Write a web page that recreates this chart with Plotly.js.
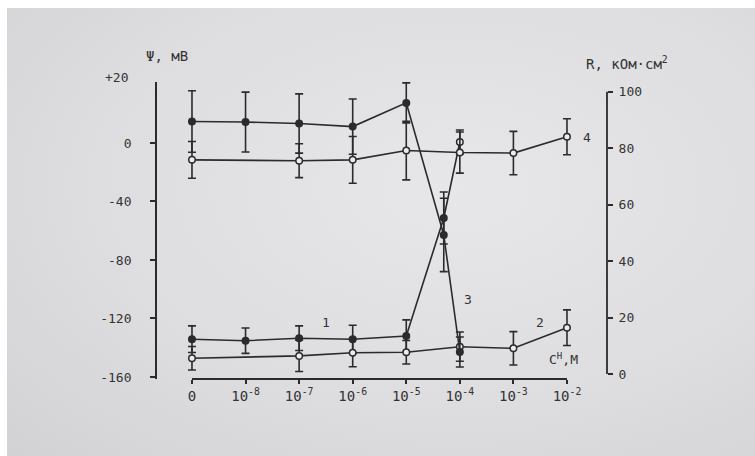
<!DOCTYPE html>
<html>
<head>
<meta charset="utf-8">
<script src="https://cdn.plot.ly/plotly-3.0.1.min.js"></script>
<style>
  html, body { margin: 0; padding: 0; background: #ffffff; }
  #chart { width: 755px; height: 456px; background-color: #ffffff;
    background-image: radial-gradient(ellipse at 60% 40%, #e7e7e9 0%, #dedee0 55%, #d2d2d4 100%);
    background-repeat: no-repeat; background-position: 7px 8px; background-size: 748px 448px; }
</style>
</head>
<body>
<div id="chart"></div>
<script>
// Concentration categories (log positions) and tick labels
const xTickVals = [0, 1, 2, 3, 4, 5, 6, 7];
const xTickText = ['0', '10<sup>-8</sup>', '10<sup>-7</sup>', '10<sup>-6</sup>', '10<sup>-5</sup>', '10<sup>-4</sup>', '10<sup>-3</sup>', '10<sup>-2</sup>'];

// Left axis ticks (Ψ, мВ)
const psiTickVals = [-160, -120, -80, -40, 0];
const psiTickText = ['-160', '-120', '-80', '-40', '0'];
// Right axis ticks (R, кОм·см²)
const rTickVals = [0, 20, 40, 60, 80, 100];
const rTickText = ['0', '20', '40', '60', '80', '100'];

// Curve 1: Ψ, filled markers
const c1x = [0, 1, 2, 3, 4, 4.7, 5];
const c1y = [-134.2, -135.2, -133.5, -134.2, -132, -51.3, 0.7];
const c1e = [9.1, 8.7, 8.4, 9.6, 11, 17.8, 8.2];
// Curve 2: Ψ, open markers
const c2x = [0, 2, 3, 4, 5, 6, 7];
const c2y = [-147.2, -145.6, -143.4, -143.1, -139.3, -140.4, -126.3];
const c2e = [8, 10.7, 9.6, 8, 10, 11.4, 12.2];
// Curve 3: R, filled markers
const c3x = [0, 1, 2, 3, 4, 4.7, 5];
const c3y = [89.5, 89.3, 88.8, 87.7, 96.1, 49.3, 7.8];
const c3e = [10.9, 10.6, 10.5, 9.8, 7.1, 13, 5.3];
// Curve 4: R, open markers
const c4x = [0, 2, 3, 4, 5, 6, 7];
const c4y = [75.9, 75.6, 75.9, 79.2, 78.5, 78.3, 84.1];
const c4e = [6.5, 6, 8.3, 10.4, 7.3, 7.7, 6.4];

const ink = '#2b2b2d';
const openFill = '#ececee';
const fontFam = '"DejaVu Sans Mono", "Liberation Mono", monospace';

function errObj(arr) {
  return { type: 'data', array: arr, visible: true, color: ink, thickness: 1.6, width: 4 };
}

// last point of curve 1 drawn open as in the original
const c1colors = c1x.map((v, i) => i === c1x.length - 1 ? openFill : ink);

const traces = [
  { x: c1x, y: c1y, yaxis: 'y', mode: 'lines+markers', error_y: errObj(c1e),
    line: { color: ink, width: 1.6 },
    marker: { size: 6.5, color: c1colors, line: { color: ink, width: 1.5 } } },
  { x: c2x, y: c2y, yaxis: 'y', mode: 'lines+markers', error_y: errObj(c2e),
    line: { color: ink, width: 1.6 },
    marker: { size: 6.5, color: openFill, line: { color: ink, width: 1.5 } } },
  { x: c3x, y: c3y, yaxis: 'y2', mode: 'lines+markers', error_y: errObj(c3e),
    line: { color: ink, width: 1.6 },
    marker: { size: 6.5, color: ink, line: { color: ink, width: 1.5 } } },
  { x: c4x, y: c4y, yaxis: 'y2', mode: 'lines+markers', error_y: errObj(c4e),
    line: { color: ink, width: 1.6 },
    marker: { size: 6.5, color: openFill, line: { color: ink, width: 1.5 } } }
];

const layout = {
  width: 755, height: 456,
  margin: { l: 157, r: 148, t: 82, b: 77, pad: 0 },
  paper_bgcolor: 'rgba(0,0,0,0)',
  plot_bgcolor: 'rgba(0,0,0,0)',
  showlegend: false,
  font: { family: fontFam, size: 13, color: '#333335' },
  xaxis: {
    range: [-0.653, 7.747], showgrid: false, zeroline: false, showline: false,
    tickvals: xTickVals, ticktext: xTickText, ticks: 'outside', ticklen: 4,
    tickwidth: 1.5, tickcolor: ink, tickfont: { size: 14 }
  },
  yaxis: {
    range: [-161.4, 41.7], showgrid: false, zeroline: false, showline: true,
    linecolor: ink, linewidth: 1.8, ticks: 'outside', ticklen: 5, tickwidth: 1.5,
    tickcolor: ink, tickvals: psiTickVals, ticktext: psiTickText, ticklabelstandoff: 16
  },
  yaxis2: {
    range: [-1.77, 103.5], overlaying: 'y', side: 'right', showgrid: false,
    zeroline: false, showline: false, ticks: 'outside', ticklen: 5, tickwidth: 1.5,
    tickcolor: ink, tickvals: rTickVals, ticktext: rTickText, ticklabelstandoff: 3
  },
  shapes: [
    { type: 'line', xref: 'x', yref: 'paper', x0: xTickVals[0], x1: xTickVals[xTickVals.length - 1],
      y0: 0, y1: 0, line: { color: ink, width: 1.8 } },
    { type: 'line', xref: 'paper', yref: 'y2', x0: 1, x1: 1, y0: rTickVals[0],
      y1: rTickVals[rTickVals.length - 1], line: { color: ink, width: 1.8 } }
  ],
  annotations: [
    { text: '+20', xref: 'paper', yref: 'paper', x: 0, y: 1, xanchor: 'right', yanchor: 'middle',
      xshift: -27, yshift: 5, showarrow: false, font: { size: 13 } },
    { text: 'Ψ, мВ', xref: 'paper', yref: 'paper', x: 0.022, y: 1, xanchor: 'center', yanchor: 'bottom',
      yshift: 16, showarrow: false, font: { size: 14 } },
    { text: 'R, кОм·см<sup>2</sup>', xref: 'paper', yref: 'paper', x: 1.045, y: 1, xanchor: 'center',
      yanchor: 'bottom', yshift: 8, showarrow: false, font: { size: 14 } },
    { text: '1', xref: 'x', yref: 'y', x: 2.5, y: -123, showarrow: false, font: { size: 13 } },
    { text: '2', xref: 'x', yref: 'y', x: 6.5, y: -123, showarrow: false, font: { size: 13 } },
    { text: '3', xref: 'x', yref: 'y', x: 5.15, y: -107, showarrow: false, font: { size: 13 } },
    { text: '4', xref: 'x', yref: 'y2', x: 7.37, y: 84, showarrow: false, font: { size: 13 } },
    { text: 'C<sup>H</sup>,M', xref: 'x', yref: 'y', x: 6.93, y: -148, showarrow: false, font: { size: 13 } }
  ]
};

Plotly.newPlot('chart', traces, layout, { displayModeBar: false });
</script>
</body>
</html>
